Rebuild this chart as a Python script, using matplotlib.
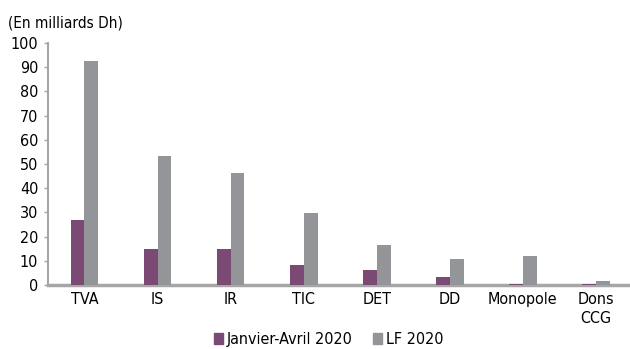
import matplotlib
matplotlib.use("Agg")
import matplotlib.pyplot as plt
import numpy as np
from matplotlib.patches import Patch

categories = ["TVA", "IS", "IR", "TIC", "DET", "DD", "Monopole", "Dons\nCCG"]
jan_avr_2020 = [26.8, 15.0, 15.0, 8.3, 6.2, 3.2, 0.5, 0.5]
lf_2020 = [92.6, 53.5, 46.1, 29.8, 16.4, 10.6, 12.0, 1.6]
yticks = list(range(0, 101, 10))

purple = "#7b4a74"
gray = "#939598"
axis_col = "#a6a6a6"

plt.rcParams['font.family'] = ['DejaVu Sans']
plt.rcParams['font.stretch'] = 'condensed'

fig = plt.figure(figsize=(6.3, 3.49), dpi=100)
ax = fig.add_axes([0.076, 0.183, 0.928, 0.694])

x = np.arange(len(categories))
w = 0.19
ax.bar(x - w / 2, jan_avr_2020, w, color=purple, label="Janvier-Avril 2020", zorder=3)
ax.bar(x + w / 2, lf_2020, w, color=gray, label="LF 2020", zorder=3)

ax.set_xlim(-0.5, len(categories) - 0.5)
ax.set_ylim(0, 100)
ax.set_yticks(yticks)
ax.set_xticks(x)
ax.set_xticklabels(categories, fontsize=11.5, linespacing=1.3)
ax.tick_params(axis='y', labelsize=11.5, length=3, color=axis_col, width=1, pad=4)
ax.tick_params(axis='x', length=0, pad=5)
for s in ["top", "right"]:
    ax.spines[s].set_visible(False)
ax.spines["left"].set_color(axis_col)
ax.spines["left"].set_linewidth(1.5)
ax.spines["bottom"].set_color(axis_col)
ax.spines["bottom"].set_linewidth(2.5)
ax.spines["bottom"].set_zorder(2)

fig.text(0.013, 0.935, "(En milliards Dh)", fontsize=11, ha="left", va="center")

handles = [Patch(color=purple), Patch(color=gray)]
fig.legend(handles, ["Janvier-Avril 2020", "LF 2020"], loc="center",
           bbox_to_anchor=(0.522, 0.027), ncol=2, frameon=False, fontsize=11.5,
           handlelength=0.55, handleheight=0.6, handletextpad=0.25, columnspacing=1.3)

fig.savefig("out.png", dpi=100)
